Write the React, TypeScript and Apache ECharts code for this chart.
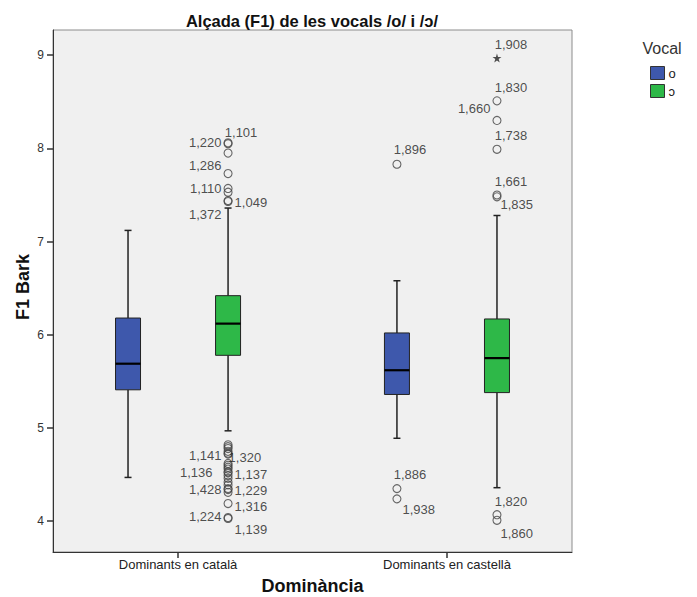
import React, { useEffect, useRef } from 'react';
import * as echarts from 'echarts';

const groups = ['Dominants en català', 'Dominants en castellà'];
const vocals = ['o', 'ɔ'];
const vocalColors = ['#3E58AC', '#2EB848'];
const yTicks = [4, 5, 6, 7, 8, 9];
const xTicks = [0, 1];

// [lower whisker, Q1, median, Q3, upper whisker] for each group
const boxVocalO = [
  [4.47, 5.41, 5.69, 6.18, 7.12],
  [4.89, 5.36, 5.62, 6.02, 6.58],
];
const boxVocalOpen = [
  [4.97, 5.78, 6.12, 6.42, 7.36],
  [4.36, 5.38, 5.75, 6.17, 7.28],
];

// outliers: values and case labels
const outCatalaOpenValues = [
  8.06, 8.05, 7.95, 7.73, 7.57, 7.53, 7.44, 7.43,
  4.82, 4.80, 4.78, 4.75, 4.73, 4.72,
  4.62, 4.60, 4.58, 4.56, 4.53, 4.52, 4.49, 4.46, 4.42, 4.39, 4.35, 4.34, 4.31,
  4.19, 4.04, 4.03,
];
const outCatalaOpenCases = [
  '1,220', '1,101', '', '1,286', '1,110', '', '1,049', '1,372',
  '', '', '', '', '1,141', '1,320',
  '', '', '', '', '1,136', '1,137', '', '', '', '', '1,428', '1,229', '',
  '1,316', '1,224', '1,139',
];
const outCastellaOValues = [7.83, 4.35, 4.24];
const outCastellaOCases = ['1,896', '1,886', '1,938'];
const outCastellaOpenValues = [8.97, 8.51, 8.30, 7.99, 7.50, 7.48, 4.07, 4.01];
const outCastellaOpenCases = ['1,908', '1,830', '1,660', '1,738', '1,661', '1,835', '1,820', '1,860'];
const outCastellaOpenExtreme = [true, false, false, false, false, false, false, false];

// label placement (styling): [side, dx, dy]
type Place = [string, number, number];
const placeCatalaOpen: Place[] = [
  ['left', 0, 0], ['top', 13, 2], ['left', 0, 0], ['left', 0, -8], ['left', 0, 0], ['left', 0, 0], ['right', 0, 2], ['left', 0, 13],
  ['left', 0, 0], ['left', 0, 0], ['left', 0, 0], ['left', 0, 0], ['left', 0, 2], ['right', -6, 3],
  ['left', 0, 0], ['left', 0, 0], ['left', 0, 0], ['left', 0, 0], ['left', -9, 1], ['right', 0, 2], ['left', 0, 0], ['left', 0, 0], ['left', 0, 0], ['left', 0, 0], ['left', 0, 1], ['right', 0, 1], ['left', 0, 0],
  ['right', 0, 3], ['left', 0, -1], ['right', 0, 11],
];
const placeCastellaO: Place[] = [['top', 13, -2], ['top', 13, -1], ['right', -1, 11]];
const placeCastellaOpen: Place[] = [
  ['top', 14, 0], ['top', 14, 0], ['left', 0, -12], ['top', 14, -1], ['top', 14, 0], ['right', -3, 8], ['top', 14, 0], ['right', -3, 13],
];

const FONT = "'Liberation Sans', Arial, sans-serif";
const OFFSET = 0.186;
const xPos = (g: number, v: number) => g + (v === 0 ? -OFFSET : OFFSET);
const STAR = 'path://M50,0 L61,35 L98,35 L68,57 L79,91 L50,70 L21,91 L32,57 L2,35 L39,35 Z';

function outlierData(g: number, v: number, values: number[], cases: string[], place: Place[], extreme?: boolean[]) {
  return values.map((val, i) => {
    const p = place[i];
    const item: any = {
      value: [xPos(g, v), val],
      name: cases[i],
      label: {
        show: cases[i] !== '',
        position: p[0],
        offset: [p[1], p[2]],
      },
    };
    if (extreme && extreme[i]) {
      item.symbol = STAR;
      item.symbolSize = 9;
      item.itemStyle = { color: '#222', borderWidth: 0 };
    }
    return item;
  });
}

export default function App() {
  const ref = useRef<HTMLDivElement>(null);
  useEffect(() => {
    if (!ref.current) return;
    const chart = echarts.init(ref.current, null, { renderer: 'svg' });

    const renderBox = (params: any, api: any) => {
      const x = api.value(0);
      const cx = api.coord([x, api.value(1)])[0];
      const yMin = api.coord([x, api.value(1)])[1];
      const yQ1 = api.coord([x, api.value(2)])[1];
      const yMed = api.coord([x, api.value(3)])[1];
      const yQ3 = api.coord([x, api.value(4)])[1];
      const yMax = api.coord([x, api.value(5)])[1];
      const w = 25;
      const cap = 3.5;
      const ls = { stroke: '#222', lineWidth: 1.5 };
      return {
        type: 'group',
        children: [
          { type: 'line', shape: { x1: cx, y1: yMax, x2: cx, y2: yQ3 }, style: ls },
          { type: 'line', shape: { x1: cx - cap, y1: yMax, x2: cx + cap, y2: yMax }, style: ls },
          { type: 'line', shape: { x1: cx, y1: yQ1, x2: cx, y2: yMin }, style: ls },
          { type: 'line', shape: { x1: cx - cap, y1: yMin, x2: cx + cap, y2: yMin }, style: ls },
          {
            type: 'rect',
            shape: { x: cx - w / 2, y: yQ3, width: w, height: yQ1 - yQ3 },
            style: { fill: api.visual('color'), stroke: '#222', lineWidth: 1 },
          },
          { type: 'line', shape: { x1: cx - w / 2, y1: yMed, x2: cx + w / 2, y2: yMed }, style: { stroke: '#000', lineWidth: 2.2 } },
        ],
      };
    };

    const boxSets = [boxVocalO, boxVocalOpen];
    const boxSeries = vocals.map((name, vi) => ({
      type: 'custom',
      name,
      renderItem: renderBox,
      itemStyle: { color: vocalColors[vi] },
      encode: { x: 0, y: [1, 2, 3, 4, 5] },
      data: boxSets[vi].map((b, gi) => [xPos(gi, vi), ...b]),
      z: 2,
    }));

    const scatterBase = {
      type: 'scatter',
      symbol: 'circle',
      symbolSize: 8,
      itemStyle: { color: 'rgba(0,0,0,0)', borderColor: '#444', borderWidth: 1.1 },
      label: {
        formatter: '{b}',
        fontSize: 13,
        color: '#222',
        fontFamily: FONT,
        distance: 2,
      },
      emphasis: { disabled: true },
      z: 3,
    };

    chart.setOption({
      animation: false,
      backgroundColor: '#ffffff',
      textStyle: { fontFamily: FONT },
      grid: {
        left: 53,
        right: 125,
        top: 30,
        bottom: 45,
        outerBoundsMode: 'none',
        containLabel: false,
        show: true,
        backgroundColor: '#f0f0f0',
        borderColor: '#8c8c8c',
        borderWidth: 1,
      },
      graphic: [
        {
          type: 'text',
          x: 312,
          y: 21,
          style: {
            text: 'Alçada (F1) de les vocals /o/ i /ɔ/',
            font: `bold 16.5px ${FONT}`,
            fill: '#111',
            align: 'center',
            verticalAlign: 'middle',
          },
        },
        {
          type: 'text',
          x: 662,
          y: 48,
          style: {
            text: 'Vocal',
            font: `16px ${FONT}`,
            fill: '#333',
            align: 'center',
            verticalAlign: 'middle',
          },
        },
      ],
      legend: {
        data: vocals.map((n) => ({ name: n, icon: 'rect', itemStyle: { borderColor: '#333', borderWidth: 1 } })),
        orient: 'vertical',
        left: 650,
        top: 66,
        itemWidth: 14,
        itemHeight: 13,
        itemGap: 4,
        padding: 0,
        selectedMode: false,
        textStyle: { fontSize: 13, color: '#222', fontFamily: FONT, padding: [0, 0, 0, -1] },
      },
      xAxis: {
        type: 'value',
        min: -0.465,
        max: 1.465,
        splitLine: { show: false },
        axisLine: { show: true, onZero: false, lineStyle: { color: '#333', width: 1 } },
        axisTick: { show: true, customValues: xTicks, length: 6, lineStyle: { color: '#333', width: 1.5 } },
        axisLabel: {
          customValues: xTicks,
          formatter: (v: number) => groups[Math.round(v)],
          fontSize: 13,
          color: '#222',
          margin: 6,
          fontFamily: FONT,
        },
        name: 'Dominància',
        nameLocation: 'middle',
        nameGap: 25,
        nameMoveOverlap: false,
        nameTextStyle: { fontSize: 18, fontWeight: 'bold', color: '#111', fontFamily: FONT },
      },
      yAxis: {
        type: 'value',
        min: 3.67,
        max: 9.27,
        splitLine: { show: false },
        axisLine: { show: true, onZero: false, lineStyle: { color: '#333', width: 1 } },
        axisTick: { show: true, customValues: yTicks, length: 6, lineStyle: { color: '#333', width: 1.5 } },
        axisLabel: {
          customValues: yTicks,
          fontSize: 12,
          color: '#333',
          margin: 9,
          fontFamily: FONT,
        },
        name: 'F1 Bark',
        nameLocation: 'middle',
        nameGap: 21,
        nameMoveOverlap: false,
        nameTextStyle: { fontSize: 18, fontWeight: 'bold', color: '#111', fontFamily: FONT, padding: [0, 0, 0, 8] },
      },
      series: [
        ...boxSeries,
        {
          ...scatterBase,
          name: 'out-catala-open',
          data: outlierData(0, 1, outCatalaOpenValues, outCatalaOpenCases, placeCatalaOpen),
        },
        {
          ...scatterBase,
          name: 'out-castella-o',
          data: outlierData(1, 0, outCastellaOValues, outCastellaOCases, placeCastellaO),
        },
        {
          ...scatterBase,
          name: 'out-castella-open',
          data: outlierData(1, 1, outCastellaOpenValues, outCastellaOpenCases, placeCastellaOpen, outCastellaOpenExtreme),
        },
      ],
    });
    return () => chart.dispose();
  }, []);
  return (
    <div
      ref={ref}
      style={{ position: 'fixed', left: 0, top: 0, width: 697, height: 597, background: '#fff' }}
    />
  );
}
